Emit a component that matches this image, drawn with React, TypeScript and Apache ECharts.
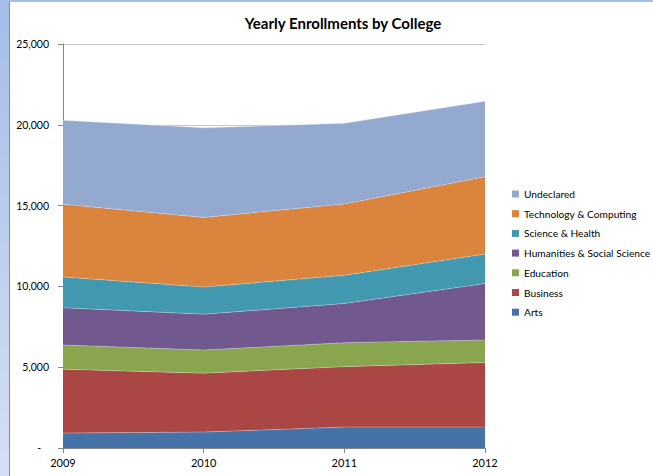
import React, { useEffect, useRef } from "react";
import * as echarts from "echarts";

const years = ["2009", "2010", "2011", "2012"];
const arts = [925, 985, 1295, 1295];
const business = [3950, 3645, 3740, 3990];
const education = [1500, 1435, 1480, 1400];
const humanities = [2300, 2215, 2425, 3490];
const science = [1910, 1680, 1745, 1825];
const technology = [4500, 4310, 4415, 4785];
const undeclared = [5190, 5540, 4990, 4680];

const seriesNames = [
  "Arts",
  "Business",
  "Education",
  "Humanities & Social Science",
  "Science & Health",
  "Technology & Computing",
  "Undeclared",
];
const seriesData = [arts, business, education, humanities, science, technology, undeclared];
const colors = ["#4572A7", "#AA4643", "#89A54E", "#71588F", "#4198AF", "#DB843D", "#93A9CF"];

export default function App() {
  const ref = useRef<HTMLDivElement>(null);
  useEffect(() => {
    if (!ref.current) return;
    const chart = echarts.init(ref.current, null, { renderer: "svg" });
    chart.setOption({
      animation: false,
      backgroundColor: "transparent",
      title: {
        text: "Yearly Enrollments by College",
        left: 338,
        textAlign: "center",
        top: 10,
        textStyle: { fontFamily: "Lato", fontSize: 15, fontWeight: "bold", color: "#000" },
      },
      legend: {
        orient: "vertical",
        left: 507,
        top: 183,
        itemWidth: 7,
        itemHeight: 7,
        itemGap: 7.7,
        icon: "rect",
        data: seriesNames.slice().reverse(),
        textStyle: { fontFamily: "Lato", fontSize: 10.2, lineHeight: 12, color: "#000" },
      },
      grid: { left: 63, right: 168, top: 44, bottom: 28, containLabel: false },
      xAxis: {
        type: "category",
        data: years,
        boundaryGap: false,
        axisLine: { lineStyle: { color: "#868686", width: 1 } },
        axisTick: { show: true, length: 5, lineStyle: { color: "#868686" } },
        axisLabel: { fontFamily: "Lato", fontSize: 11, color: "#000", margin: 9 },
      },
      yAxis: {
        type: "value",
        min: 0,
        max: 25000,
        interval: 5000,
        axisLine: { show: true, lineStyle: { color: "#868686", width: 1 } },
        axisTick: { show: true, length: 5, lineStyle: { color: "#868686" } },
        splitLine: { show: true, lineStyle: { color: "#c6c6c6", width: 1 } },
        axisLabel: {
          fontFamily: "Lato",
          fontSize: 10.5,
          color: "#000",
          margin: 14,
          formatter: (v: number) => (v === 0 ? "-\u2003" : v.toLocaleString("en-US")),
        },
      },
      series: seriesNames.map((name, i) => ({
        name,
        type: "line",
        stack: "total",
        data: seriesData[i],
        symbol: "none",
        lineStyle: { width: 0.8, color: "rgba(255,255,255,0.35)" },
        areaStyle: { color: colors[i], opacity: 1 },
        itemStyle: { color: colors[i] },
        emphasis: { disabled: true },
      })),
    });
    return () => chart.dispose();
  }, []);

  return (
    <div style={{ position: "fixed", left: 0, top: 0, width: 653, height: 476, background: "#fff" }}>
      <div
        style={{
          position: "absolute",
          left: 0,
          top: 0,
          width: 9,
          height: 476,
          background: "linear-gradient(#a3bce9, #d5dff3)",
          borderRight: "1px solid #8c8c8c",
        }}
      />
      <div style={{ position: "absolute", left: 0, top: 0, width: 653, height: 2, background: "#a3bce9" }} />
      <div ref={ref} style={{ position: "absolute", left: 0, top: 0, width: 653, height: 476 }} />
    </div>
  );
}
